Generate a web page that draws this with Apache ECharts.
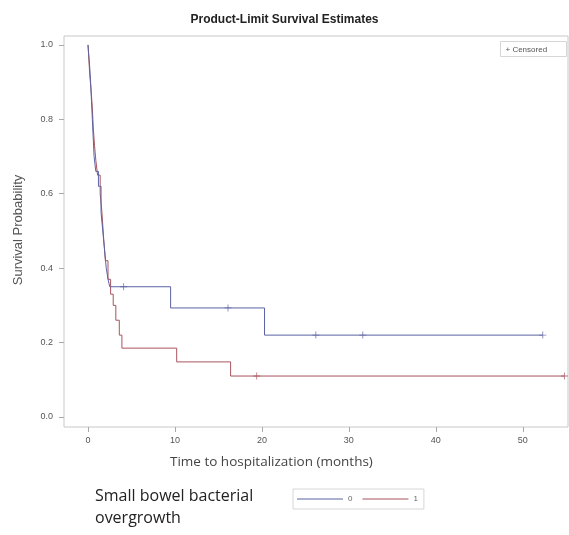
<!DOCTYPE html>
<html>
<head>
<meta charset="utf-8">
<script src="https://cdn.jsdelivr.net/npm/echarts@6/dist/echarts.min.js"></script>
<style>
  html, body { margin: 0; padding: 0; background: #fff; }
  #chart { width: 569px; height: 535px; }
</style>
</head>
<body>
<div id="chart"></div>
<script>
// Kaplan-Meier step estimates, group 0 (no SIBO) and group 1 (SIBO)
const group0Times = [0, 0.1, 0.2, 0.3, 0.4, 0.5, 0.6, 0.7, 0.9, 1.2, 1.5, 1.7, 1.9, 2.1, 2.3, 2.5, 9.5, 20.3, 52.3];
const group0Surv  = [1.0, 0.97, 0.94, 0.90, 0.85, 0.80, 0.75, 0.70, 0.66, 0.62, 0.55, 0.50, 0.45, 0.40, 0.37, 0.35, 0.293, 0.22, 0.22];
const group1Times = [0, 0.1, 0.2, 0.35, 0.5, 0.6, 0.75, 0.9, 1.1, 1.4, 1.6, 1.8, 2.0, 2.3, 2.6, 2.9, 3.2, 3.6, 3.9, 10.2, 16.4, 54.8];
const group1Surv  = [1.0, 0.96, 0.92, 0.88, 0.83, 0.78, 0.73, 0.69, 0.65, 0.60, 0.55, 0.48, 0.42, 0.37, 0.33, 0.30, 0.26, 0.22, 0.185, 0.148, 0.11, 0.11];

// Censored observations
const group0CensorTimes = [4.1, 16.1, 26.2, 31.6, 52.3];
const group0CensorSurv  = [0.35, 0.293, 0.22, 0.22, 0.22];
const group1CensorTimes = [19.4, 54.8];
const group1CensorSurv  = [0.11, 0.11];

// Axis ticks
const xTicks = [0, 10, 20, 30, 40, 50];
const yTicks = [0, 0.2, 0.4, 0.6, 0.8, 1.0];
const groupNames = ['0', '1'];

const blue = '#5b63a3';
const red = '#a8545e';
const plusPath = 'path://M4.4,0L5.6,0L5.6,4.4L10,4.4L10,5.6L5.6,5.6L5.6,10L4.4,10L4.4,5.6L0,5.6L0,4.4L4.4,4.4Z';

const zip = (xs, ys) => xs.map((x, i) => [x, ys[i]]);

const chart = echarts.init(document.getElementById('chart'), null, { renderer: 'canvas' });

chart.setOption({
  backgroundColor: '#ffffff',
  animation: false,
  title: {
    text: 'Product-Limit Survival Estimates',
    left: 'center',
    top: 9,
    textStyle: { fontFamily: 'Liberation Sans', fontSize: 12, fontWeight: 'bold', color: '#222' }
  },
  grid: {
    left: 64, top: 36, right: 1, bottom: 108,
    show: true, borderColor: '#c8c8c8', borderWidth: 1, backgroundColor: '#fff'
  },
  xAxis: {
    type: 'value',
    min: -2.76, max: 55.2,
    axisLine: { show: false, onZero: false },
    splitLine: { show: false },
    axisTick: { show: true, customValues: xTicks, length: 5, lineStyle: { color: '#aaa' } },
    axisLabel: {
      customValues: xTicks, color: '#555', fontSize: 9, fontFamily: 'Liberation Sans', margin: 9
    }
  },
  yAxis: {
    type: 'value',
    min: -0.027, max: 1.024,
    axisLine: { show: false, onZero: false },
    splitLine: { show: false },
    axisTick: { show: true, customValues: yTicks, length: 5, lineStyle: { color: '#aaa' } },
    axisLabel: {
      customValues: yTicks, color: '#555', fontSize: 9, fontFamily: 'Liberation Sans', margin: 11,
      formatter: v => v.toFixed(1)
    }
  },
  legend: {
    data: groupNames,
    left: 293, top: 489,
    orient: 'horizontal',
    icon: 'rect',
    itemWidth: 46, itemHeight: 1,
    itemGap: 10,
    padding: [6, 6, 6, 4],
    borderColor: '#d6d6d6', borderWidth: 1,
    textStyle: { fontSize: 8, color: '#666', fontFamily: 'Liberation Sans' }
  },
  graphic: [
    {
      type: 'text', rotation: Math.PI / 2,
      x: 18, y: 230,
      style: { text: 'Survival Probability', fontFamily: 'Liberation Sans', fontSize: 13, fill: '#555',
               align: 'center', verticalAlign: 'middle' }
    },
    {
      type: 'text', left: 170, top: 455,
      style: { text: 'Time to hospitalization (months)', fontFamily: 'Open Sans', fontSize: 13.5, fill: '#444' }
    },
    {
      type: 'text', left: 95, top: 485,
      style: { text: 'Small bowel bacterial\novergrowth', fontFamily: 'Open Sans', fontSize: 16, lineHeight: 22, fill: '#222' }
    },
    {
      type: 'group', left: 500, top: 41,
      children: [
        { type: 'rect', shape: { x: 0, y: 0, width: 66, height: 15 }, style: { fill: '#fff', stroke: '#d6d6d6', lineWidth: 1 } },
        { type: 'text', style: { x: 5, y: 4, text: '+ Censored', fontFamily: 'Liberation Sans', fontSize: 8, fill: '#555' } }
      ]
    }
  ],
  series: [
    {
      name: '0', type: 'line', step: 'end', showSymbol: false,
      data: zip(group0Times, group0Surv),
      lineStyle: { color: blue, width: 1 }, itemStyle: { color: blue }, z: 3
    },
    {
      name: '1', type: 'line', step: 'end', showSymbol: false,
      data: zip(group1Times, group1Surv),
      lineStyle: { color: red, width: 1 }, itemStyle: { color: red }, z: 2
    },
    {
      name: 'censor0', type: 'scatter', symbol: plusPath, symbolSize: 7,
      data: zip(group0CensorTimes, group0CensorSurv),
      itemStyle: { color: blue }, z: 4
    },
    {
      name: 'censor1', type: 'scatter', symbol: plusPath, symbolSize: 7,
      data: zip(group1CensorTimes, group1CensorSurv),
      itemStyle: { color: red }, z: 4
    }
  ]
});
</script>
</body>
</html>
